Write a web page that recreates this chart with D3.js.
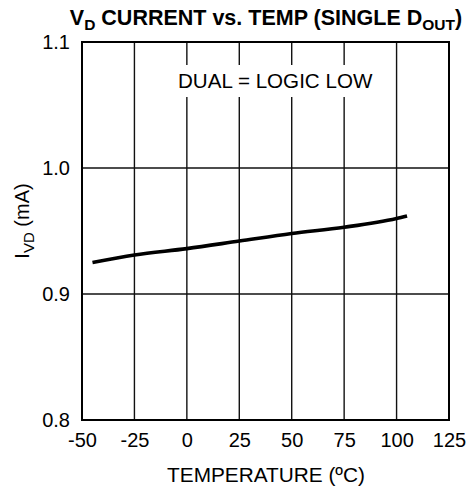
<!DOCTYPE html>
<html><head><meta charset="utf-8">
<script src="https://cdn.jsdelivr.net/npm/d3@7/dist/d3.min.js"></script>
<style>body{margin:0;background:#fff}svg{display:block}text{font-family:"Liberation Sans",Arial,sans-serif;fill:#000}</style>
</head><body>
<script>
const temps = [-45, -25, 0, 25, 50, 75, 100, 105];
const current = [0.925, 0.931, 0.936, 0.942, 0.948, 0.953, 0.960, 0.962];
const xTicks = [-50, -25, 0, 25, 50, 75, 100, 125];
const yTicks = [0.8, 0.9, 1.0, 1.1];

const W = 472, H = 487;
const m = {l: 82, r: 449, t: 42, b: 420};
const svg = d3.select("body").append("svg").attr("width", W).attr("height", H);
const x = d3.scaleLinear().domain([-50, 125]).range([m.l, m.r]);
const y = d3.scaleLinear().domain([0.8, 1.1]).range([m.b, m.t]);

// grid
svg.append("g").selectAll("line").data(xTicks.slice(1, -1)).join("line")
  .attr("x1", d => x(d)).attr("x2", d => x(d)).attr("y1", m.t).attr("y2", m.b)
  .attr("stroke", "#111").attr("stroke-width", 1.4);
svg.append("g").selectAll("line").data(yTicks.slice(1, -1)).join("line")
  .attr("y1", d => y(d)).attr("y2", d => y(d)).attr("x1", m.l).attr("x2", m.r)
  .attr("stroke", "#111").attr("stroke-width", 1.4);

// annotation
svg.append("rect").attr("x", 176).attr("y", 65).attr("width", 199).attr("height", 32).attr("fill", "#fff");
svg.append("text").attr("x", 178).attr("y", 88).attr("font-size", 20.6).text("DUAL = LOGIC LOW");

// border
svg.append("rect").attr("x", m.l).attr("y", m.t).attr("width", m.r - m.l).attr("height", m.b - m.t)
  .attr("fill", "none").attr("stroke", "#000").attr("stroke-width", 2);

// data line
const pts = temps.map((t, i) => [t, current[i]]);
svg.append("path").datum(pts)
  .attr("d", d3.line().x(d => x(d[0])).y(d => y(d[1])).curve(d3.curveMonotoneX))
  .attr("fill", "none").attr("stroke", "#000").attr("stroke-width", 3.6);

// axes
const xAxis = d3.axisBottom(x).tickValues(xTicks).tickSize(0).tickPadding(13).tickFormat(d => String(d));
const gx = svg.append("g").attr("transform", `translate(0,${m.b})`).call(xAxis);
const yAxis = d3.axisLeft(y).tickValues(yTicks).tickSize(0).tickPadding(12).tickFormat(d3.format(".1f"));
const gy = svg.append("g").attr("transform", `translate(${m.l},0)`).call(yAxis);
[gx, gy].forEach(g => {
  g.select(".domain").remove();
  g.selectAll("text").attr("font-size", 20).attr("font-family", '"Liberation Sans",Arial,sans-serif').attr("fill", "#000");
});

// axis titles
svg.append("text").attr("x", 266).attr("y", 482).attr("text-anchor", "middle").attr("font-size", 20.8)
  .text("TEMPERATURE (ºC)");
const yl = svg.append("text").attr("transform", "translate(29,221) rotate(-90)")
  .attr("text-anchor", "middle").attr("font-size", 20);
yl.append("tspan").text("I");
yl.append("tspan").attr("font-size", 15).attr("dy", 5).text("VD");
yl.append("tspan").attr("dy", -5).text(" (mA)");

// title
const tt = svg.append("text").attr("x", 266).attr("y", 25).attr("text-anchor", "middle")
  .attr("font-size", 21.5).attr("font-weight", "bold");
tt.append("tspan").text("V");
tt.append("tspan").attr("font-size", 15.5).attr("dy", 5).text("D");
tt.append("tspan").attr("dy", -5).text(" CURRENT vs. TEMP (SINGLE D");
tt.append("tspan").attr("font-size", 15.5).attr("dy", 5).text("OUT");
tt.append("tspan").attr("dy", -5).text(")");
</script>
</body></html>
